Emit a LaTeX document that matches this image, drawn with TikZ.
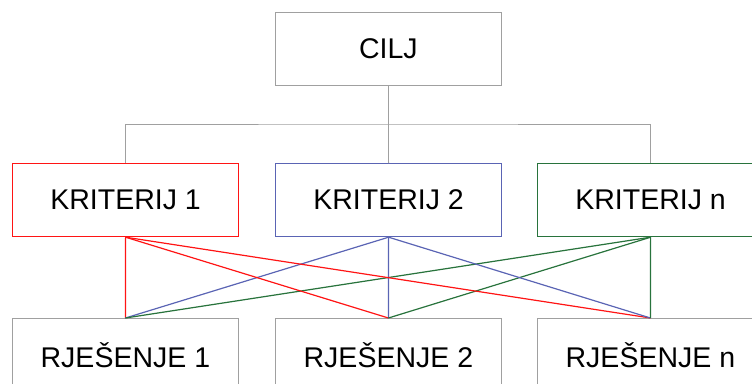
\documentclass[tikz,border=0pt]{standalone}
\usepackage{fontspec}
\setmainfont{Liberation Sans}
\begin{document}
\begin{tikzpicture}[x=1pt,y=-1pt,
  box/.style={draw=#1,line width=1.2pt,minimum width=226pt,minimum height=73pt,inner sep=0pt,font=\fontsize{28.5}{31}\selectfont,anchor=north west},
  gline/.style={draw=gray!80,line width=0.8pt},
  cline/.style={draw=#1,line width=1.2pt}]
\definecolor{kred}{RGB}{255,20,20}
\definecolor{kblue}{RGB}{90,100,180}
\definecolor{kgreen}{RGB}{40,115,60}
\definecolor{kgray}{RGB}{160,160,160}
\useasboundingbox (0,0) rectangle (752,383);
\node[box=kgray,line width=0.8pt] (cilj) at (275,12) {CILJ};
\node[box=kred] (k1) at (12,163) {KRITERIJ 1};
\node[box=kblue] (k2) at (275,163) {KRITERIJ 2};
\node[box=kgreen] (kn) at (537,163) {KRITERIJ n};
\node[box=kgray,line width=0.8pt] (r1) at (12,318) {RJEŠENJE 1};
\node[box=kgray,line width=0.8pt] (r2) at (275,318) {RJEŠENJE 2};
\node[box=kgray,line width=0.8pt] (rn) at (537,318) {RJEŠENJE n};
\coordinate (j) at (cilj.south |- 0,124);
\draw[gline,draw=kgray] (cilj.south) -- (j);
\draw[gline,draw=kgray] (k1.north) |- (j) -| (kn.north);
\draw[gline,draw=kgray] (j) -- (k2.north);
\foreach \r in {r1,r2,rn} {
  \draw[cline=kred] (k1.south) -- (\r.north);
  \draw[cline=kblue] (k2.south) -- (\r.north);
  \draw[cline=kgreen] (kn.south) -- (\r.north);
}
\end{tikzpicture}
\end{document}
